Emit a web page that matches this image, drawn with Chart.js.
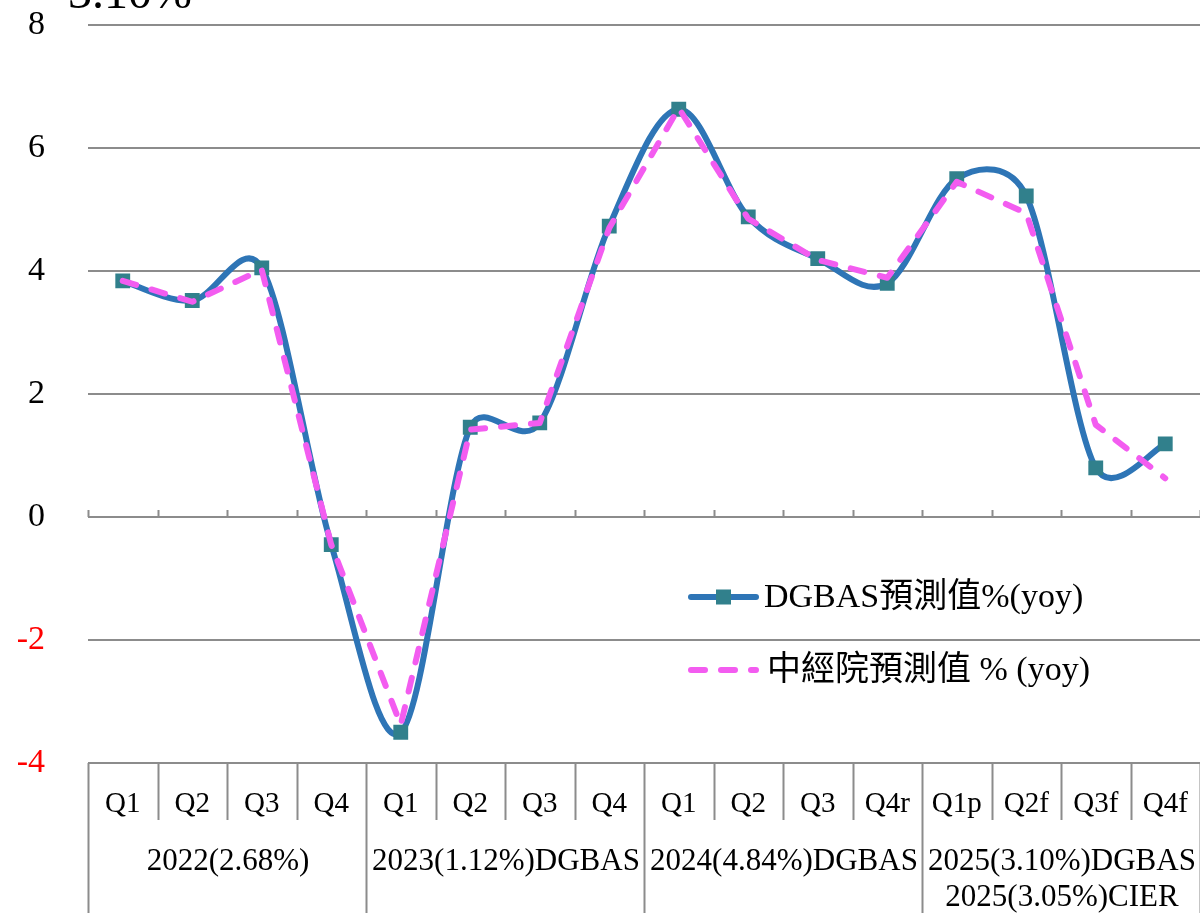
<!DOCTYPE html>
<html>
<head>
<meta charset="utf-8">
<script src="https://cdn.jsdelivr.net/npm/chart.js@4.4.1/dist/chart.umd.min.js"></script>
<style>
  html, body { margin: 0; padding: 0; background: #fff; }
  canvas { display: block; }
</style>
</head>
<body>
<canvas id="gdpChart" width="1200" height="913"></canvas>
<script>
const quarters = ['Q1', 'Q2', 'Q3', 'Q4', 'Q1', 'Q2', 'Q3', 'Q4', 'Q1', 'Q2', 'Q3', 'Q4r', 'Q1p', 'Q2f', 'Q3f', 'Q4f'];
const yearLabels = [['2022(2.68%)'], ['2023(1.12%)DGBAS'], ['2024(4.84%)DGBAS'], ['2025(3.10%)DGBAS', '2025(3.05%)CIER']];
const dgbas = [3.84, 3.52, 4.05, -0.45, -3.50, 1.46, 1.53, 4.73, 6.63, 4.88, 4.20, 3.80, 5.50, 5.22, 0.80, 1.19];
const cier = [3.84, 3.50, 4.02, -0.45, -3.38, 1.42, 1.53, 4.70, 6.65, 4.85, 4.18, 3.89, 5.45, 4.94, 1.50, 0.63];
const seriesNames = ['DGBAS預測值%(yoy)', '中經院預測值 % (yoy)'];
const headNote = '3.10%';

const serif = "'Liberation Serif', 'Noto Sans CJK TC', serif";
const gridColour = '#8c8c8c';
const blue = '#2e75b6';
const teal = '#31808c';
const pink = '#f35cf0';

// Excel style smoothing: control arm = 1/6 of the neighbour span,
// but never longer than half of the segment it points along
const excelSmooth = {
  id: 'excelSmooth',
  beforeDatasetDraw(chart, args) {
    const ds = chart.data.datasets[args.index];
    if (!ds.excelSmooth) return;
    args.meta.dataset.updateControlPoints(chart.chartArea, args.meta.iScale.axis);
    const pts = args.meta.data;
    const n = pts.length;
    const dist = (p, q) => Math.hypot(q.x - p.x, q.y - p.y);
    for (let i = 0; i < n; i++) {
      const a = pts[Math.max(i - 1, 0)];
      const p = pts[i];
      const b = pts[Math.min(i + 1, n - 1)];
      const dx = (b.x - a.x) / 6;
      const dy = (b.y - a.y) / 6;
      const arm = Math.hypot(dx, dy) || 1;
      const fPrev = Math.min(1, dist(a, p) / 2 / arm);
      const fNext = Math.min(1, dist(p, b) / 2 / arm);
      p.cp1x = p.x - dx * fPrev;
      p.cp1y = p.y - dy * fPrev;
      p.cp2x = p.x + dx * fNext;
      p.cp2y = p.y + dy * fNext;
    }
  }
};

// quarter table under the plot, year captions, zero-line ticks and legend
const decorPlugin = {
  id: 'decor',
  afterDraw(chart) {
    const { ctx, chartArea, scales: { x, y } } = chart;
    const step = x.getPixelForValue(1) - x.getPixelForValue(0);
    const zeroY = y.getPixelForValue(0);
    ctx.save();
    ctx.strokeStyle = gridColour;
    ctx.lineWidth = 2;
    for (let i = 0; i <= quarters.length; i++) {
      const px = Math.round(x.getPixelForValue(i) - step / 2) + 0.5;
      ctx.beginPath();
      ctx.moveTo(px, zeroY - 7);
      ctx.lineTo(px, zeroY);
      ctx.moveTo(px, chartArea.bottom);
      ctx.lineTo(px, i % 4 === 0 ? chart.height : 820);
      ctx.stroke();
    }

    ctx.fillStyle = '#000';
    ctx.textAlign = 'center';
    ctx.textBaseline = 'alphabetic';
    ctx.font = '31px ' + serif;
    yearLabels.forEach((lines, g) => {
      const cx = (x.getPixelForValue(g * 4) + x.getPixelForValue(g * 4 + 3)) / 2;
      lines.forEach((t, k) => ctx.fillText(t, cx + 1, 870 + k * 36));
    });

    ctx.font = '48px ' + serif;
    ctx.textAlign = 'left';
    ctx.fillText(headNote, 68, 8);

    // legend
    const rows = [597, 670];
    chart.data.datasets.forEach((ds, i) => {
      const ly = rows[i];
      ctx.save();
      ctx.strokeStyle = ds.borderColor;
      ctx.lineWidth = ds.borderWidth;
      ctx.lineCap = 'round';
      ctx.setLineDash(ds.borderDash || []);
      ctx.beginPath();
      ctx.moveTo(691, ly);
      ctx.lineTo(756, ly);
      ctx.stroke();
      ctx.restore();
      if (ds.pointRadius > 0) {
        ctx.fillStyle = ds.pointBackgroundColor;
        ctx.fillRect(716, ly - 7.5, 15, 15);
      }
      ctx.fillStyle = '#000';
      ctx.font = '34px ' + serif;
      ctx.textBaseline = 'middle';
      ctx.fillText(seriesNames[i], i === 0 ? 764 : 767, ly + 1);
    });
    ctx.restore();
  }
};

new Chart(document.getElementById('gdpChart'), {
  type: 'line',
  data: {
    labels: quarters,
    datasets: [
      {
        label: seriesNames[0],
        data: dgbas,
        borderColor: blue,
        borderWidth: 6,
        tension: 0.5,
        excelSmooth: true,
        pointStyle: 'rect',
        pointRadius: 10.5,
        pointBackgroundColor: teal,
        pointBorderWidth: 0,
        order: 1
      },
      {
        label: seriesNames[1],
        data: cier,
        borderColor: pink,
        borderWidth: 6,
        borderDash: [14, 16],
        borderCapStyle: 'round',
        borderJoinStyle: 'round',
        tension: 0,
        pointRadius: 0,
        order: 0
      }
    ]
  },
  options: {
    responsive: false,
    animation: false,
    devicePixelRatio: 1,
    layout: { autoPadding: false, padding: { top: 25, right: 0, left: 0, bottom: 0 } },
    plugins: {
      legend: { display: false },
      tooltip: { enabled: false }
    },
    scales: {
      x: {
        offset: true,
        grid: { display: false },
        border: { display: false },
        ticks: {
          color: '#000',
          font: { family: serif, size: 29 },
          padding: 16,
          maxRotation: 0,
          autoSkip: false
        },
        afterFit(scale) {
          scale.height = 150;
          scale.paddingLeft = 0;
          scale.paddingRight = 0;
        }
      },
      y: {
        min: -4,
        max: 8,
        grid: { color: gridColour, lineWidth: 2, drawTicks: false },
        border: { display: false },
        ticks: {
          stepSize: 2,
          padding: 43,
          font: { family: serif, size: 34 },
          color: ctx => ctx.tick.value < 0 ? '#ff0000' : '#000'
        },
        afterFit(scale) {
          scale.width = 88;
          scale.paddingTop = 0;
          scale.paddingBottom = 0;
        }
      }
    }
  },
  plugins: [excelSmooth, decorPlugin]
});
</script>
</body>
</html>
